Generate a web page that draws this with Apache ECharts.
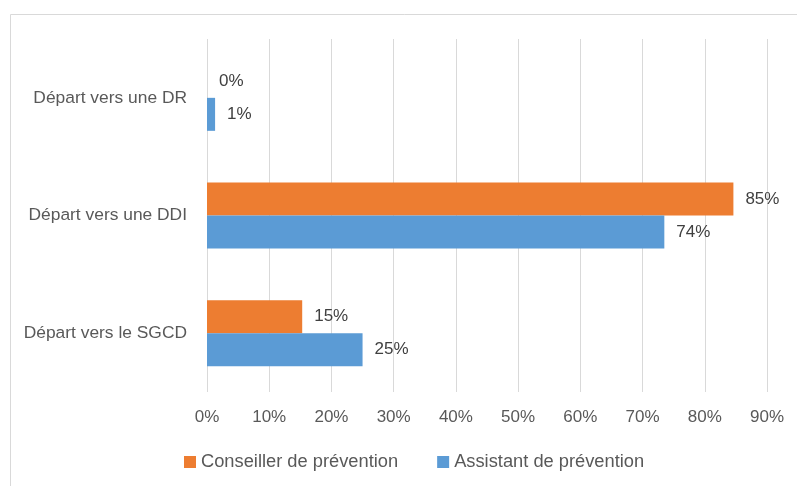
<!DOCTYPE html>
<html>
<head>
<meta charset="utf-8">
<script src="https://cdn.jsdelivr.net/npm/echarts@6/dist/echarts.min.js"></script>
<style>
  html, body { margin: 0; padding: 0; background: #fff; }
  #chart { width: 797px; height: 486px; }
</style>
</head>
<body>
<div id="chart"></div>
<script>
// données
const categories = ['Départ vers une DR', 'Départ vers une DDI', 'Départ vers le SGCD']
const seriesNames = ['Conseiller de prévention', 'Assistant de prévention']
const conseiller = [0, 84.6, 15.3]
const assistant = [1.3, 73.5, 25.0]
const xTicks = [0, 10, 20, 30, 40, 50, 60, 70, 80, 90]

const FONT = 'Liberation Sans'
const TEXT = '#595959'

const chart = echarts.init(document.getElementById('chart'))

const valueLabel = {
  show: true,
  position: 'right',
  distance: 12,
  color: '#404040',
  fontFamily: FONT,
  fontSize: 17,
  formatter: (p) => Math.round(p.value) + '%',
}

chart.setOption({
  animation: false,
  graphic: [
    {
      type: 'rect',
      shape: { x: 10.5, y: 14.5, width: 800, height: 500 },
      style: { fill: 'none', stroke: '#d9d9d9', lineWidth: 1 },
      silent: true,
    },
  ],
  grid: { left: 207, right: 30, top: 39, bottom: 94, containLabel: false },
  legend: {
    left: 184,
    top: 453,
    padding: 0,
    itemWidth: 12,
    itemHeight: 12,
    itemGap: 39,
    icon: 'rect',
    textStyle: { color: TEXT, fontFamily: FONT, fontSize: 18.3 },
    data: seriesNames,
  },
  xAxis: {
    type: 'value',
    min: xTicks[0],
    max: xTicks[xTicks.length - 1],
    interval: 10,
    axisLine: { show: false },
    axisTick: { show: false },
    splitLine: { show: true, lineStyle: { color: '#d9d9d9', width: 1 } },
    axisLabel: {
      margin: 17,
      color: TEXT,
      fontFamily: FONT,
      fontSize: 17,
      formatter: (v) => v + '%',
    },
  },
  yAxis: {
    type: 'category',
    inverse: true,
    data: categories,
    axisLine: { show: false },
    axisTick: { show: false },
    axisLabel: { margin: 20, color: TEXT, fontFamily: FONT, fontSize: 17.4 },
  },
  series: [
    {
      name: seriesNames[0],
      type: 'bar',
      data: conseiller,
      barWidth: 33,
      barGap: '0%',
      itemStyle: { color: '#ED7D31' },
      label: valueLabel,
    },
    {
      name: seriesNames[1],
      type: 'bar',
      data: assistant,
      barWidth: 33,
      barGap: '0%',
      itemStyle: { color: '#5B9BD5' },
      label: valueLabel,
    },
  ],
})
</script>
</body>
</html>
